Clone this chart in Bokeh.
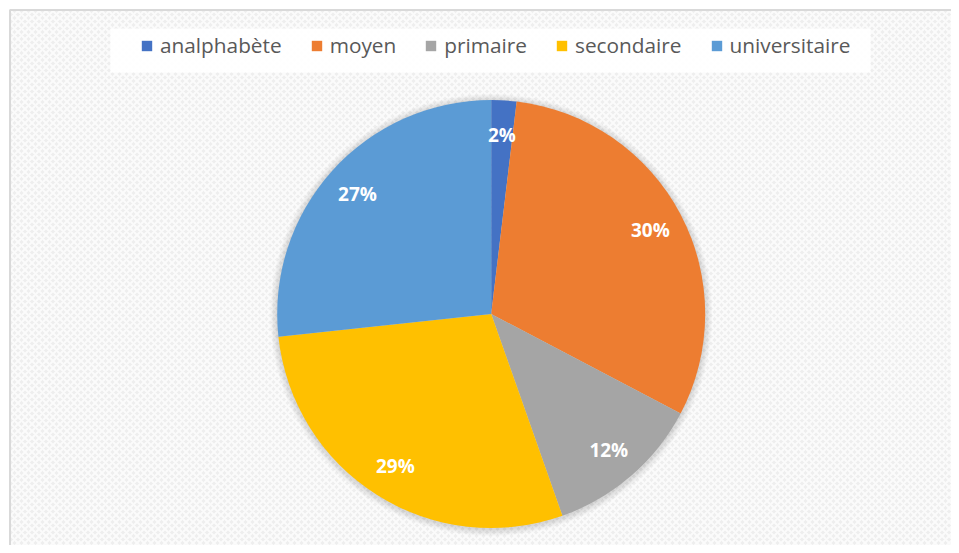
import numpy as np
from bokeh.plotting import figure
from bokeh.models import Range1d, Legend, LegendItem, ColumnDataSource
from bokeh.core.properties import value
from bokeh.embed import file_html
from bokeh.resources import INLINE

# ---- data ----
categories = ["analphabète", "moyen", "primaire", "secondaire", "universitaire"]
shares = [1.9, 30.8, 11.9, 28.7, 26.7]          # slice sizes
labels = ["2%", "30%", "12%", "29%", "27%"]      # data labels as printed
colors = ["#4472C4", "#ED7D31", "#A5A5A5", "#FFC000", "#5B9BD5"]

W, H = 951, 545
p = figure(width=W, height=H, output_backend="svg", toolbar_location=None,
           x_range=Range1d(0, W), y_range=Range1d(0, H),
           x_axis_type=None, y_axis_type=None, min_border=0)
p.grid.visible = False
p.background_fill_color = "white"
p.border_fill_color = "white"
p.outline_line_color = None

# textured chart-area background with its thin gray border
p.quad(left=[9.5], right=[W + 20], bottom=[-20], top=[H - 9.5], fill_color="#eeeeee",
       line_color="#d9d9d9", line_width=2,
       hatch_pattern="x", hatch_color="white", hatch_scale=7, hatch_weight=2, hatch_alpha=0.75)

cx, cy, R = 490.7, 231.5, 214

# soft shadow
for k in range(1, 8):
    p.circle(x=[cx], y=[cy - 1], radius=R + k, radius_units="screen",
             fill_color="black", fill_alpha=0.018, line_color=None)

vals = np.array(shares, dtype=float)
frac = vals / vals.sum()
cum = np.concatenate([[0], np.cumsum(frac)])
start = np.pi / 2 - 2 * np.pi * cum[:-1]
end = np.pi / 2 - 2 * np.pi * cum[1:]
mid = (start + end) / 2

src = ColumnDataSource(dict(start=start, end=end, color=colors, cat=categories,
                            x=[cx] * len(vals), y=[cy] * len(vals)))
p.wedge(x="x", y="y", radius=R, radius_units="screen", start_angle="start", end_angle="end",
        direction="clock", fill_color="color", line_color=None, source=src)

lr = 0.84 * R
lab = ColumnDataSource(dict(x=cx + lr * np.cos(mid), y=cy + lr * np.sin(mid), t=labels))
p.text(x="x", y="y", text="t", source=lab, text_color="white", text_font=value("Open Sans"),
       text_font_style="bold", text_font_size="19px", text_align="center", text_baseline="middle")

# legend box
p.quad(left=[110], right=[870], bottom=[473], top=[517], fill_color="white", fill_alpha=0.92,
       line_color=None)

# legend glyph renderers (filled squares)
items = []
for i, c in enumerate(categories):
    r = p.quad(left=[-100], right=[-90], bottom=[-100], top=[-90], fill_color=colors[i],
               line_color=None)
    items.append(LegendItem(label=c, renderers=[r]))

legend = Legend(items=items, orientation="horizontal", location=(140, 486),
                background_fill_alpha=0, border_line_color=None, padding=0, margin=0,
                spacing=28, glyph_width=13, glyph_height=13, label_standoff=7,
                label_text_font="Open Sans", label_text_font_size="20.8px",
                label_text_color="#595959", label_height=20)
p.add_layout(legend, "center")

open("out.html", "w").write(file_html(p, INLINE))
